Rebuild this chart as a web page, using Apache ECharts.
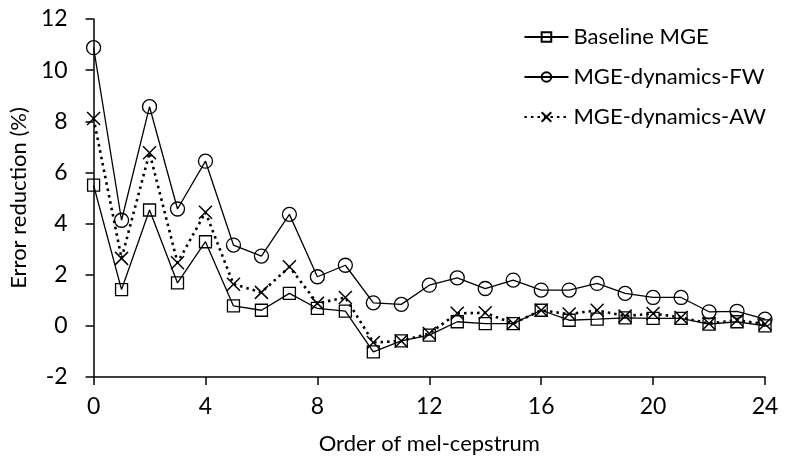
<!DOCTYPE html>
<html>
<head>
<meta charset="utf-8">
<script src="https://cdn.jsdelivr.net/npm/echarts@6/dist/echarts.min.js"></script>
<style>
  html, body { margin: 0; padding: 0; background: #fff; }
  #chart { width: 792px; height: 464px; }
</style>
</head>
<body>
<div id="chart"></div>
<script>
// order of mel-cepstrum (x)
const orders = [0, 1, 2, 3, 4, 5, 6, 7, 8, 9, 10, 11, 12, 13, 14, 15, 16, 17, 18, 19, 20, 21, 22, 23, 24];
// error reduction (%)
const baselineMGE = [5.5, 1.42, 4.53, 1.68, 3.29, 0.78, 0.61, 1.27, 0.68, 0.58, -1.02, -0.59, -0.36, 0.16, 0.09, 0.09, 0.61, 0.22, 0.26, 0.31, 0.29, 0.29, 0.07, 0.16, 0.0];
const dynamicsFW = [10.88, 4.13, 8.57, 4.57, 6.44, 3.16, 2.73, 4.36, 1.92, 2.37, 0.9, 0.84, 1.59, 1.88, 1.46, 1.79, 1.4, 1.4, 1.66, 1.27, 1.11, 1.11, 0.55, 0.57, 0.26];
const dynamicsAW = [8.11, 2.64, 6.77, 2.47, 4.44, 1.63, 1.31, 2.31, 0.88, 1.11, -0.65, -0.59, -0.3, 0.49, 0.51, 0.09, 0.61, 0.46, 0.61, 0.38, 0.48, 0.33, 0.09, 0.22, 0.07];
const seriesNames = ["Baseline MGE", "MGE-dynamics-FW", "MGE-dynamics-AW"];

const FONT = "Lato";
const FS = 22;
const pairs = arr => arr.map((v, i) => [orders[i], v]);

var chart = echarts.init(document.getElementById("chart"), null, { renderer: "canvas" });

var option = {
    animation: false,
    backgroundColor: "#fff",
    textStyle: { fontFamily: FONT, color: "#000" },
    grid: {
        left: 92,
        right: 27,
        top: 19,
        bottom: 87,
        containLabel: false,
    },
    legend: {
        orient: "vertical",
        right: 21,
        top: 21,
        itemWidth: 44,
        itemHeight: 12,
        itemGap: 18,
        textStyle: { fontFamily: FONT, fontSize: FS, color: "#000" },
        data: seriesNames,
    },
    xAxis: {
        type: "value",
        min: 0,
        max: 24,
        interval: 4,
        name: "Order of mel-cepstrum",
        nameLocation: "middle",
        nameGap: 56,
        nameTextStyle: { fontFamily: FONT, fontSize: FS, color: "#000" },
        axisLine: { onZero: false, lineStyle: { color: "#000", width: 1.5 } },
        axisTick: { show: true, length: 8, inside: false, lineStyle: { color: "#000", width: 1.5 } },
        axisLabel: { margin: 18, fontFamily: FONT, fontSize: 23, color: "#000" },
        splitLine: { show: false },
    },
    yAxis: {
        type: "value",
        min: -2,
        max: 12,
        interval: 2,
        name: "Error reduction (%)",
        nameLocation: "middle",
        nameGap: 54,
        nameTextStyle: { fontFamily: FONT, fontSize: FS, color: "#000" },
        axisLine: { show: true, lineStyle: { color: "#000", width: 1.5 } },
        axisTick: { show: true, length: 8, inside: false, lineStyle: { color: "#000", width: 1.5 } },
        axisLabel: { margin: 26, fontFamily: FONT, fontSize: 23, color: "#000" },
        splitLine: { show: false },
    },
    series: [
        {
            name: seriesNames[0],
            type: "line",
            data: pairs(baselineMGE),
            symbol: "rect",
            symbolSize: 12,
            lineStyle: { color: "#000", width: 1.3, type: "solid" },
            itemStyle: { color: "rgba(0,0,0,0)", borderColor: "#000", borderWidth: 1.3 },
        },
        {
            name: seriesNames[1],
            type: "line",
            data: pairs(dynamicsFW),
            symbol: "circle",
            symbolSize: 14,
            lineStyle: { color: "#000", width: 1.3, type: "solid" },
            itemStyle: { color: "rgba(0,0,0,0)", borderColor: "#000", borderWidth: 1.3 },
        },
        {
            name: seriesNames[2],
            type: "line",
            data: pairs(dynamicsAW),
            symbol: "path://M0,0L10,10M10,0L0,10",
            symbolSize: 13,
            lineStyle: { color: "#000", width: 2.6, type: [2.5, 4] },
            itemStyle: { color: "rgba(0,0,0,0)", borderColor: "#000", borderWidth: 1.5 },
        },
    ],
};

chart.setOption(option);
</script>
</body>
</html>
